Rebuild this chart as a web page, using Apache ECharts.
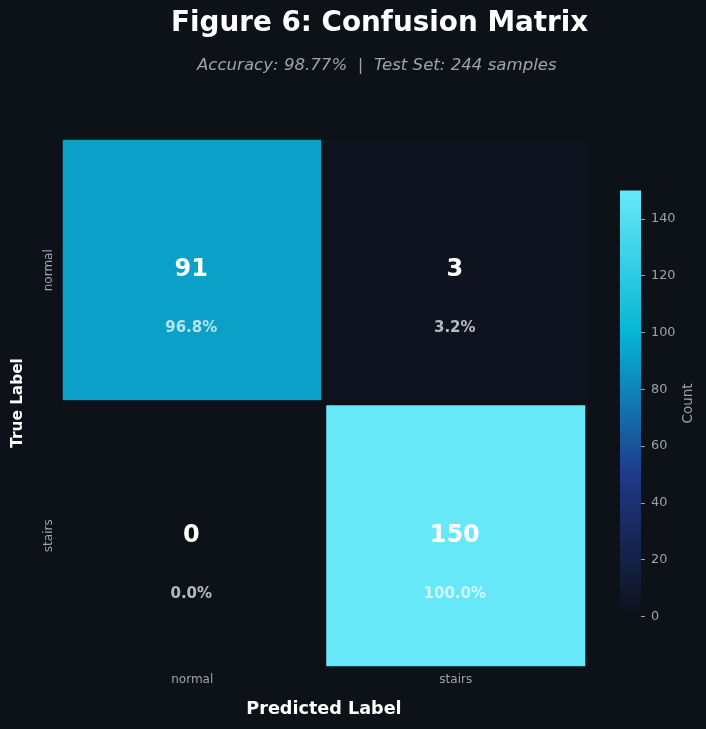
<!DOCTYPE html>
<html>
<head>
<meta charset="utf-8">
<script src="https://cdn.jsdelivr.net/npm/echarts@6/dist/echarts.min.js"></script>
<style>
html,body{margin:0;padding:0;background:#0d1118;}
#chart{width:706px;height:729px;}
</style>
</head>
<body>
<div id="chart"></div>
<script>
// ---- data ----
const predLabels = ['normal', 'stairs'];
const trueLabels = ['normal', 'stairs'];
const rowNormal = [91, 3];     // true = normal
const rowStairs = [0, 150];    // true = stairs
const colorbarTicks = [0, 20, 40, 60, 80, 100, 120, 140];
const cmapColors = ['#0d1118', '#1e3a8a', '#06b6d4', '#67e8f9'];
const titleText = 'Figure 6: Confusion Matrix';
const subtitleText = 'Accuracy: 98.77%  |  Test Set: 244 samples';

const rows = [rowNormal, rowStairs];
const heatData = [];
rows.forEach((row, yi) => {
  const total = row.reduce((a, b) => a + b, 0);
  row.forEach((v, xi) => {
    heatData.push({ value: [xi, yi, v], pct: (total ? v / total * 100 : 0).toFixed(1) + '%' });
  });
});

const FONT = 'DejaVu Sans';
const GRAY = '#9ca3af';
const chart = echarts.init(document.getElementById('chart'));
chart.setOption({
  backgroundColor: '#0d1118',
  animation: false,
  textStyle: { fontFamily: FONT },
  title: [
    { text: titleText, left: 171, top: 10, padding: 0,
      textStyle: { color: '#ffffff', fontSize: 27.8, fontWeight: 'bold', fontFamily: FONT } },
    { text: subtitleText, left: 197, top: 57, padding: 0,
      textStyle: { color: GRAY, fontSize: 16.6, fontStyle: 'italic', fontWeight: 'normal', fontFamily: FONT } }
  ],
  grid: [
    { left: 60.5, top: 137.5, width: 527, height: 531 },
    { left: 620, top: 190.5, width: 21, height: 426 }
  ],
  xAxis: [
    { type: 'category', gridIndex: 0, data: predLabels, position: 'bottom',
      name: 'Predicted Label', nameLocation: 'middle', nameGap: 32,
      nameTextStyle: { color: '#ffffff', fontSize: 17.6, fontWeight: 'bold', fontFamily: FONT },
      axisLine: { show: false }, axisTick: { show: false }, splitLine: { show: false },
      axisLabel: { color: GRAY, fontSize: 12, margin: 5, fontFamily: FONT } },
    { type: 'category', gridIndex: 1, data: [''], show: false }
  ],
  yAxis: [
    { type: 'category', gridIndex: 0, data: trueLabels, inverse: true,
      name: 'True Label', nameLocation: 'middle', nameGap: 35, nameRotate: 90,
      nameTextStyle: { color: '#ffffff', fontSize: 15.3, fontWeight: 'bold', fontFamily: FONT },
      axisLine: { show: false }, axisTick: { show: false }, splitLine: { show: false },
      axisLabel: { color: GRAY, fontSize: 12, rotate: 90, margin: 6, fontFamily: FONT } },
    { type: 'value', gridIndex: 1, min: 0, max: 150, position: 'right',
      name: 'Count', nameLocation: 'middle', nameGap: 40, nameRotate: 90,
      nameTextStyle: { color: GRAY, fontSize: 13.5, fontFamily: FONT },
      axisLine: { show: false }, splitLine: { show: false },
      axisTick: { show: true, length: 4, inside: false, customValues: colorbarTicks,
                  lineStyle: { color: GRAY, width: 1 } },
      axisLabel: { color: GRAY, fontSize: 12.8, margin: 10, customValues: colorbarTicks, fontFamily: FONT } }
  ],
  visualMap: {
    show: false, type: 'continuous', min: 0, max: 150, seriesIndex: 0,
    inRange: { color: cmapColors }
  },
  series: [
    {
      type: 'heatmap', xAxisIndex: 0, yAxisIndex: 0, data: heatData,
      itemStyle: { borderColor: '#0d1118', borderWidth: 5 },
      emphasis: { disabled: true },
      label: {
        show: true, offset: [-1, 29],
        formatter: p => '{c|' + p.value[2] + '}\n{p|' + p.data.pct + '}',
        rich: {
          c: { color: '#ffffff', fontSize: 24, fontWeight: 'bold', lineHeight: 58, fontFamily: FONT },
          p: { color: 'rgba(255,255,255,0.7)', fontSize: 15, fontWeight: 'bold', lineHeight: 58, fontFamily: FONT }
        }
      }
    },
    {
      type: 'bar', xAxisIndex: 1, yAxisIndex: 1, data: [150], barWidth: '100%',
      silent: true,
      itemStyle: {
        color: new echarts.graphic.LinearGradient(0, 1, 0, 0, [
          { offset: 0, color: cmapColors[0] },
          { offset: 1 / 3, color: cmapColors[1] },
          { offset: 2 / 3, color: cmapColors[2] },
          { offset: 1, color: cmapColors[3] }
        ])
      }
    }
  ]
});
</script>
</body>
</html>
